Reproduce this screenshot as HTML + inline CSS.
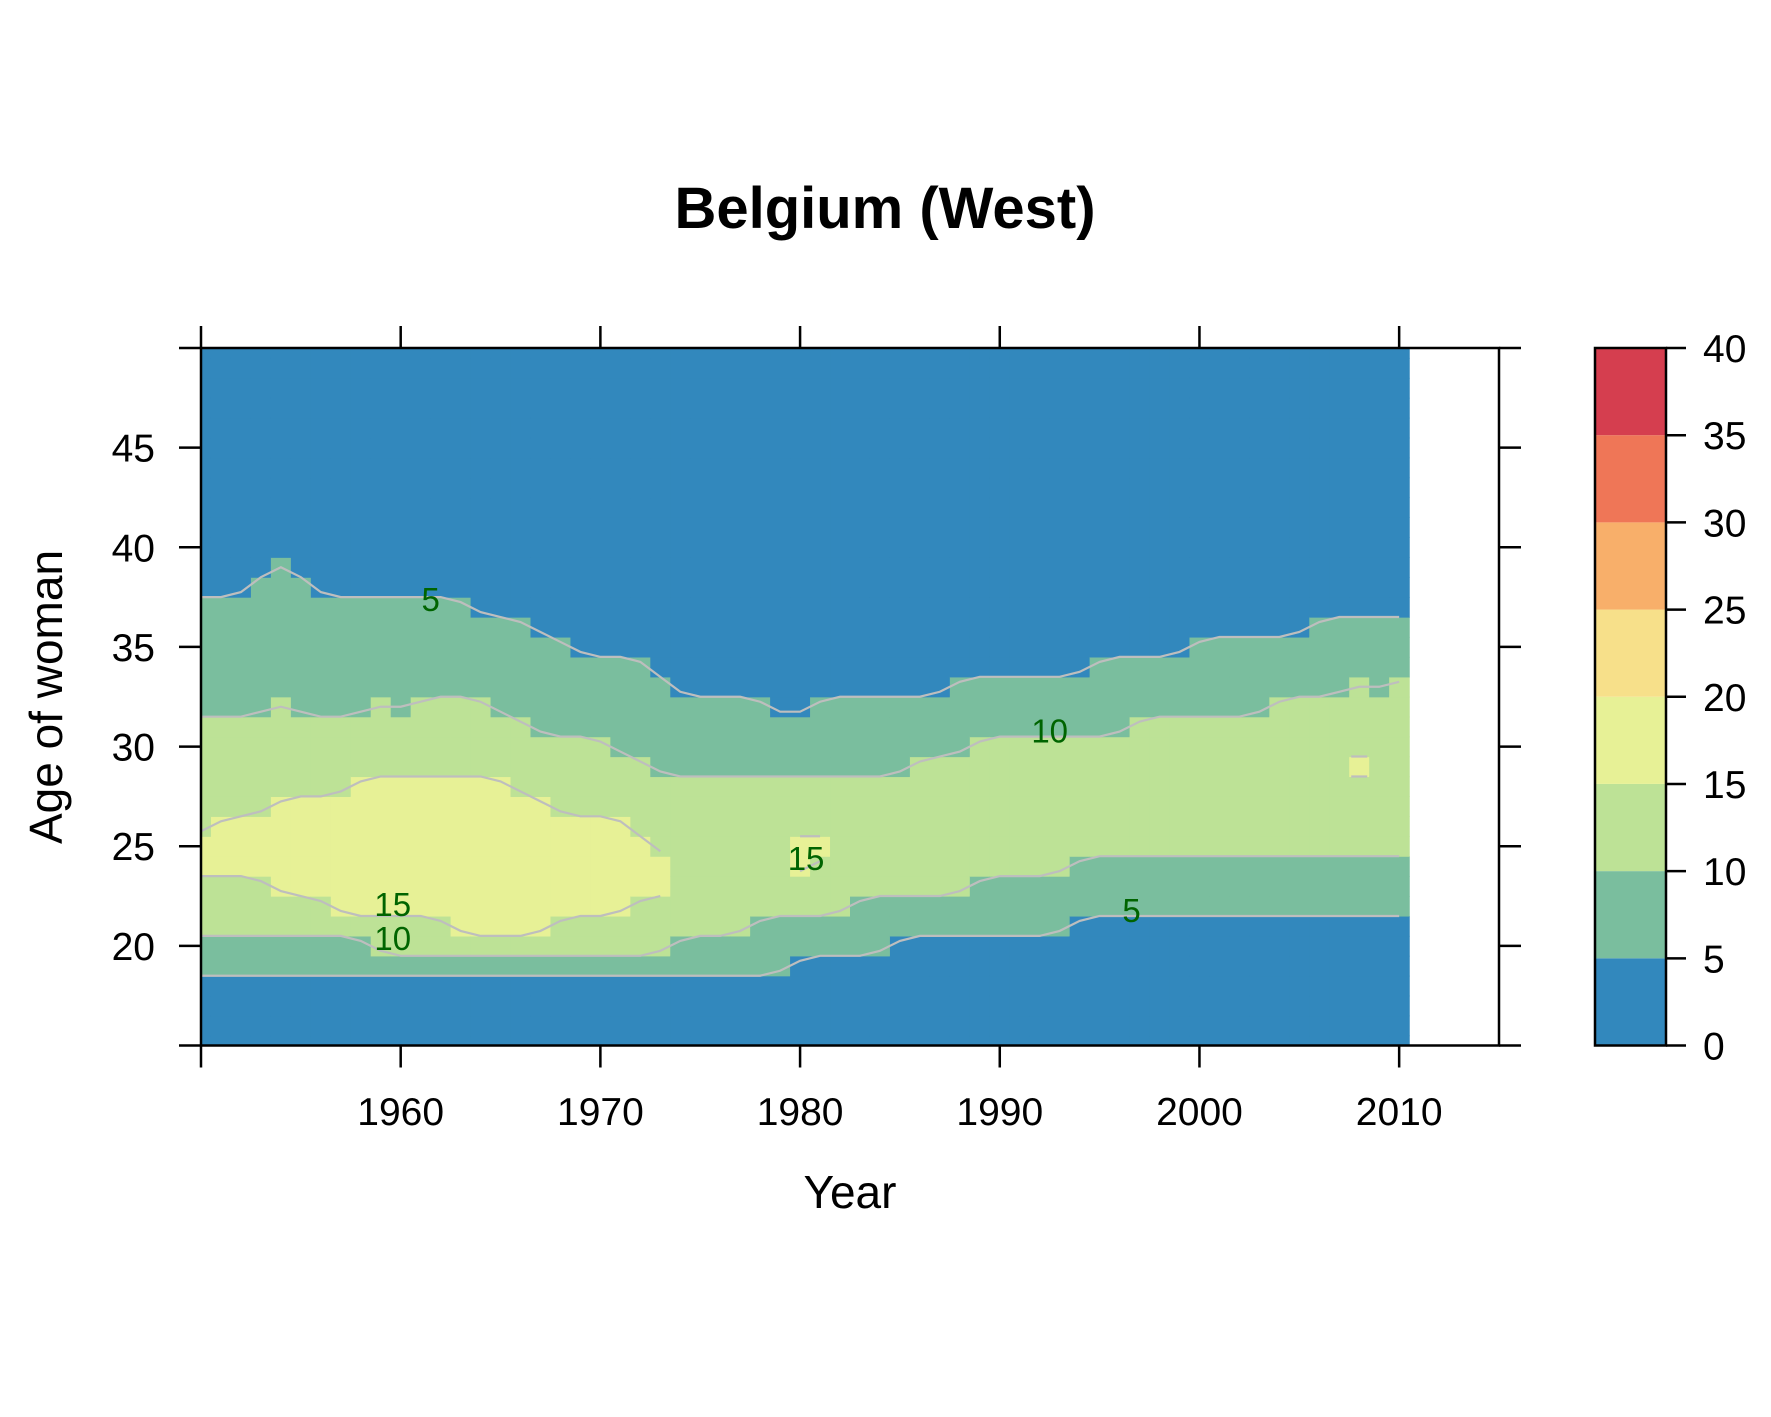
<!DOCTYPE html>
<html><head><meta charset="utf-8"><style>
html,body{margin:0;padding:0;background:#fff;}
svg{display:block;font-family:"Liberation Sans",Arial,sans-serif;}
</style></head><body>
<svg id="chart" width="1771" height="1417" viewBox="0 0 1771 1417" xmlns="http://www.w3.org/2000/svg">
<text x="885" y="228" text-anchor="middle" font-size="58" font-weight="bold">Belgium (West)</text>
<g id="cells"></g>
<g id="lines"></g>
<g id="labels"></g>
<g id="axes"></g>
<g id="cbar"></g>
<text x="850" y="1208" text-anchor="middle" font-size="46">Year</text>
<text transform="translate(62,697) rotate(-90)" text-anchor="middle" font-size="46">Age of woman</text>
</svg>
<script>
const years = [1950,1951,1952,1953,1954,1955,1956,1957,1958,1959,1960,1961,1962,1963,1964,1965,1966,1967,1968,1969,1970,1971,1972,1973,1974,1975,1976,1977,1978,1979,1980,1981,1982,1983,1984,1985,1986,1987,1988,1989,1990,1991,1992,1993,1994,1995,1996,1997,1998,1999,2000,2001,2002,2003,2004,2005,2006,2007,2008,2009,2010];
// highest age with rate >= 5
const hi5 = [37,37,37,38,39,38,37,37,37,37,37,37,37,37,36,36,36,35,35,34,34,34,34,33,32,32,32,32,32,31,31,32,32,32,32,32,32,32,33,33,33,33,33,33,33,34,34,34,34,34,35,35,35,35,35,35,36,36,36,36,36];
// highest age with rate >= 10
const hi10 = [31,31,31,31,32,31,31,31,31,32,31,32,32,32,32,31,31,30,30,30,30,29,29,28,28,28,28,28,28,28,28,28,28,28,28,28,29,29,29,30,30,30,30,30,30,30,30,31,31,31,31,31,31,31,32,32,32,32,33,32,33];
// yellow band (rate >= 15): lowest / highest age, null = none
const lo15 = [24,24,24,24,23,23,23,22,22,22,22,22,22,21,21,21,21,21,22,22,22,22,23,23,null,null,null,null,null,null,24,25,null,null,null,null,null,null,null,null,null,null,null,null,null,null,null,null,null,null,null,null,null,null,null,null,null,null,29,null,null];
const hi15 = [25,26,26,26,27,27,27,27,28,28,28,28,28,28,28,28,27,27,26,26,26,26,25,24,null,null,null,null,null,null,25,25,null,null,null,null,null,null,null,null,null,null,null,null,null,null,null,null,null,null,null,null,null,null,null,null,null,null,29,null,null];
// lowest age with rate >= 10
const lo10 = [21,21,21,21,21,21,21,21,21,20,20,20,20,20,20,20,20,20,20,20,20,20,20,20,21,21,21,21,22,22,22,22,22,23,23,23,23,23,23,24,24,24,24,24,25,25,25,25,25,25,25,25,25,25,25,25,25,25,25,25,25];
// lowest age with rate >= 5
const lo5 = [19,19,19,19,19,19,19,19,19,19,19,19,19,19,19,19,19,19,19,19,19,19,19,19,19,19,19,19,19,19,20,20,20,20,20,21,21,21,21,21,21,21,21,21,22,22,22,22,22,22,22,22,22,22,22,22,22,22,22,22,22];
const colorBreaks = [0,5,10,15,20,25,30,35,40];
const colors = ["#3288BD","#7ABE9E","#BDE296","#E7F196","#F7E08A","#F8AF6A","#EF7657","#D53E4F"];
const xTicks = [1960,1970,1980,1990,2000,2010];
const yTicks = [20,25,30,35,40,45];
const contourLabels = [["5",1961.5,37.4],["10",1992.5,30.8],["15",1959.6,22.1],["10",1959.6,20.4],["15",1980.3,24.4],["5",1996.6,21.8]];

const NS="http://www.w3.org/2000/svg";
const X0=201,X1=1499,Y0=1045.5,Y1=348;
const xmin=1950,xmax=2015,ymin=15,ymax=50;
const sx=v=>X0+(v-xmin)*(X1-X0)/(xmax-xmin);
const sy=v=>Y0-(v-ymin)*(Y0-Y1)/(ymax-ymin);
function mk(tag,attrs,parent){const e=document.createElementNS(NS,tag);for(const k in attrs)e.setAttribute(k,attrs[k]);parent.appendChild(e);return e;}
const cells=document.getElementById('cells');
const clip=mk('clipPath',{id:'pc'},document.getElementById('chart'));
mk('rect',{x:X0,y:Y1,width:X1-X0,height:Y0-Y1},clip);
cells.setAttribute('clip-path','url(#pc)');
function band(i,age){
  if(lo15[i]!==null && age>=lo15[i] && age<=hi15[i]) return 3;
  if(age>=lo10[i] && age<=hi10[i]) return 2;
  if(age>=lo5[i] && age<=hi5[i]) return 1;
  return 0;
}
years.forEach((yr,i)=>{
  for(let age=15;age<=50;age++){
    const b=band(i,age);
    const r=mk('rect',{x:sx(yr-0.5),y:sy(age+0.5),width:sx(yr+0.5)-sx(yr-0.5)+0.6,height:sy(age-0.5)-sy(age+0.5)+0.6,fill:colors[b]},cells);
    
    
  }
});
const lines=document.getElementById('lines');
function drawLine(arr,off,name){
  let segs=[],cur=[];
  years.forEach((yr,i)=>{
    if(arr[i]===null){if(cur.length)segs.push(cur);cur=[];return;}
    cur.push([yr,arr[i]+off]);
  });
  if(cur.length)segs.push(cur);
  segs.forEach(s=>{
    let pts;
    if(s.length===1){pts=[[sx(s[0][0])-8,sy(s[0][1])],[sx(s[0][0])+8,sy(s[0][1])]];}
    else{
      pts=s.map((q,k)=>{
        const a=s[Math.max(0,k-1)][1],b=q[1],c=s[Math.min(s.length-1,k+1)][1];
        return [sx(q[0]),sy((a+2*b+c)/4)];
      });
    }
    const p=mk('polyline',{points:pts.map(q=>q.join(',')).join(' '),fill:'none',stroke:'#BEBEBE','stroke-width':2.2},lines);
    
    
  });
}
drawLine(hi5,0.5,'contour-5-upper');
drawLine(hi10,0.5,'contour-10-upper');
drawLine(lo10,-0.5,'contour-10-lower');
drawLine(lo5,-0.5,'contour-5-lower');
drawLine(hi15,0.5,'contour-15-upper');
drawLine(lo15,-0.5,'contour-15-lower');
lines.setAttribute('clip-path','url(#pc)');
const labs=document.getElementById('labels');
contourLabels.forEach(c=>{
  const t=mk('text',{x:sx(c[1]),y:sy(c[2])+12,'text-anchor':'middle','font-size':33,fill:'#006400'},labs);
  t.textContent=c[0];
  
  
});
const ax=document.getElementById('axes');
mk('rect',{x:X0,y:Y1,width:X1-X0,height:Y0-Y1,fill:'none',stroke:'#000','stroke-width':2.5},ax);
[1950].concat(xTicks).forEach(v=>{
  const t1=mk('line',{x1:sx(v),x2:sx(v),y1:Y0,y2:Y0+22,stroke:'#000','stroke-width':2.5},ax);
  
  const t2=mk('line',{x1:sx(v),x2:sx(v),y1:Y1,y2:Y1-22,stroke:'#000','stroke-width':2.5},ax);
  
});
xTicks.forEach(v=>{
  const t=mk('text',{x:sx(v),y:1125,'text-anchor':'middle','font-size':39},ax);
  t.textContent=v;
  
});
[15].concat(yTicks).concat([50]).forEach(v=>{
  const a=mk('line',{x1:X0-22,x2:X0,y1:sy(v),y2:sy(v),stroke:'#000','stroke-width':2.5},ax);
  
  const b=mk('line',{x1:X1,x2:X1+22,y1:sy(v),y2:sy(v),stroke:'#000','stroke-width':2.5},ax);
  
});
yTicks.forEach(v=>{
  const t=mk('text',{x:155,y:sy(v)+14,'text-anchor':'end','font-size':39},ax);
  t.textContent=v;
  
});
const cb=document.getElementById('cbar');
const CX0=1595,CX1=1666;
const cy=v=>Y0-(v-colorBreaks[0])*(Y0-Y1)/(colorBreaks[colorBreaks.length-1]-colorBreaks[0]);
colors.forEach((c,i)=>{
  const r=mk('rect',{x:CX0,y:cy(colorBreaks[i+1]),width:CX1-CX0,height:cy(colorBreaks[i])-cy(colorBreaks[i+1]),fill:c},cb);
  
});
mk('rect',{x:CX0,y:Y1,width:CX1-CX0,height:Y0-Y1,fill:'none',stroke:'#000','stroke-width':2.5},cb);
colorBreaks.forEach(v=>{
  const l=mk('line',{x1:CX1,x2:CX1+20,y1:cy(v),y2:cy(v),stroke:'#000','stroke-width':2.5},cb);
  
  const t=mk('text',{x:1703,y:cy(v)+14,'font-size':39},cb);
  t.textContent=v;
  
});
</script>
</body></html>
